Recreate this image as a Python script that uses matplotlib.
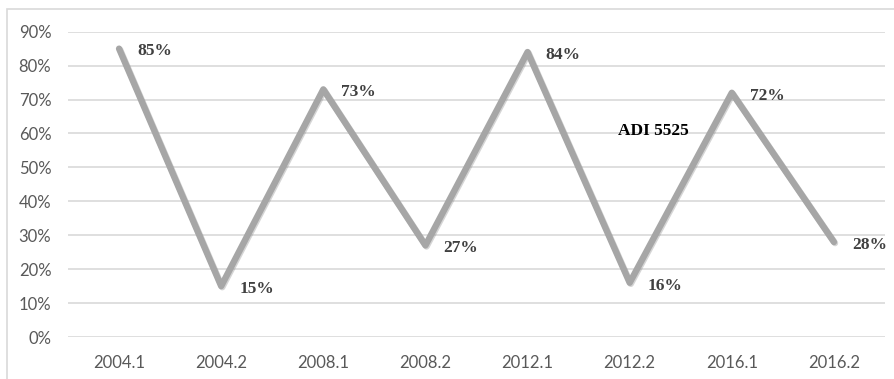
import matplotlib.pyplot as plt
import matplotlib.patheffects as pe
from matplotlib.patches import Rectangle
from matplotlib.ticker import FuncFormatter

periods = ['2004.1', '2004.2', '2008.1', '2008.2', '2012.1', '2012.2', '2016.1', '2016.2']
shares = [85, 15, 73, 27, 84, 16, 72, 28]
series_name = 'ADI 5525'

fig = plt.figure(figsize=(8.95, 3.79), dpi=100)
fig.patch.set_facecolor('white')

# light frame around the chart (cut off at right and bottom like the source)
fig.patches.append(Rectangle((7 / 895, -0.05), 1.0, 1 - 9 / 379 + 0.05,
                             transform=fig.transFigure, fill=False,
                             edgecolor='#d9d9d9', linewidth=1.2))

ax = fig.add_axes([68 / 895, 1 - 337 / 379, (885 - 68) / 895, (337 - 31.7) / 379])
x = list(range(len(periods)))
ax.plot(x, shares, color='#a6a6a6', linewidth=4.6, solid_joinstyle='round',
        solid_capstyle='round', clip_on=False,
        path_effects=[pe.SimpleLineShadow(offset=(0.8, -0.8), shadow_color='#888888', alpha=0.35),
                      pe.Normal()])

for xi, v in zip(x, shares):
    ax.annotate(f'{v}%', (xi, v), xytext=(13, -2), textcoords='offset points',
                ha='left', va='center', fontsize=12.5, fontweight='bold',
                family='Liberation Serif', color='#404040')

ax.text(5.23, 60.6, series_name, ha='center', va='center', fontsize=12.5,
        fontweight='bold', family='Liberation Serif', color='black')

ax.set_xlim(-0.5, len(periods) - 0.5)
ax.set_ylim(0, 90)
ax.set_yticks(range(0, 91, 10))
ax.yaxis.set_major_formatter(FuncFormatter(lambda v, p: f'{v:.0f}%'))
ax.set_xticks(x)
ax.set_xticklabels(periods)
ax.grid(axis='y', color='#d9d9d9', linewidth=1.2)
ax.set_axisbelow(True)
for s in ax.spines.values():
    s.set_visible(False)
ax.tick_params(length=0, labelcolor='#595959', labelsize=12)
ax.tick_params(axis='y', pad=12)
ax.tick_params(axis='x', pad=13)
for lbl in ax.get_xticklabels() + ax.get_yticklabels():
    lbl.set_family('Lato')

fig.savefig('out.png', dpi=100)
